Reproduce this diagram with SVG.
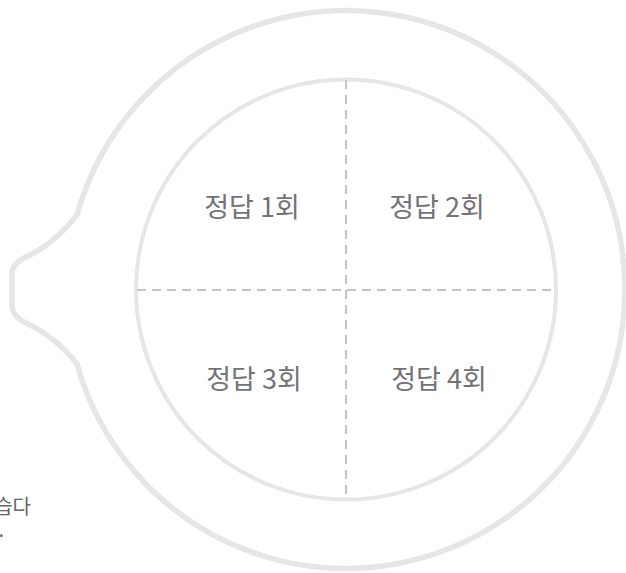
<svg xmlns="http://www.w3.org/2000/svg" width="626" height="573" viewBox="0 0 626 573">
<style>
.ring{fill:none;stroke:#e6e6e6;stroke-linejoin:round}
.div{fill:none;stroke:#c4c4c4;stroke-width:2;stroke-dasharray:9 6}
.lbl{font-family:"Noto Sans CJK KR","Noto Sans",sans-serif;font-size:27px;fill:#727277;text-anchor:middle}
.note{font-family:"Noto Sans CJK KR","Noto Sans",sans-serif;font-size:20px;fill:#666;text-anchor:end}
</style>
<rect width="626" height="573" fill="#fff"/>
<g id="outer-ring">
<path class="ring" stroke-width="5.5" d="M77,215 A279,279 0 1,1 77,364 C62,345 45,332 28,324 Q12,317 12,305 L12,274 Q12,263 28,256 C45,248 62,234 77,215 Z"/>
</g>
<g id="inner-circle">
<circle class="ring" stroke-width="4" cx="346" cy="289.5" r="210"/>
</g>
<g id="dividers">
<path class="div" d="M137,290 H556"/>
<path class="div" d="M346,80 V500"/>
</g>
<g id="q1"><text class="lbl" x="252" y="217">정답 1회</text></g>
<g id="q2"><text class="lbl" x="437" y="217">정답 2회</text></g>
<g id="q3"><text class="lbl" x="254" y="389">정답 3회</text></g>
<g id="q4"><text class="lbl" x="439" y="389">정답 4회</text></g>
<g id="note">
<text class="note" x="31" y="514">습다</text>
<text class="note" x="4" y="537">다.</text>
</g>
</svg>
